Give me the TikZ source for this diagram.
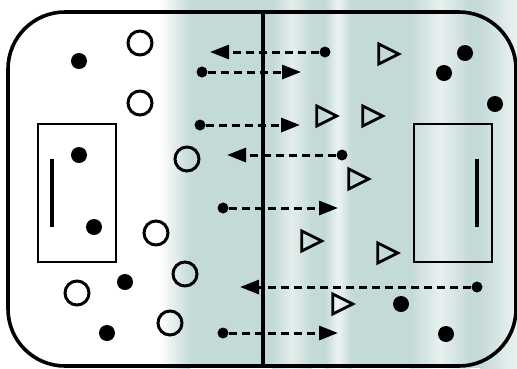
\documentclass[tikz,border=0pt]{standalone}
\definecolor{iceteal}{RGB}{196, 218, 216}
\definecolor{icelight}{RGB}{236, 243, 242}
\usepackage{tikz}
\usetikzlibrary{shapes.geometric, arrows.meta, positioning}

\begin{document}
\begin{tikzpicture}[x=1pt, y=-1pt,
        arr/.style={-{Triangle[length=19pt, width=14pt]}, line width=3pt,
                    dash pattern=on 8pt off 5pt},
        puck/.style={circle, fill=black, inner sep=0pt, minimum size=11pt},
        homeplayer/.style={circle, fill=black, inner sep=0pt, minimum size=16pt},
        awayplayer/.style={circle, draw, line width=3pt, inner sep=0pt,
                    minimum size=24pt},
        cone/.style={isosceles triangle, isosceles triangle stretches, draw,
                    line width=2.8pt, inner sep=0pt, minimum width=20pt,
                    minimum height=20pt},
        goal/.style={draw, line width=2.4pt, minimum width=78pt, minimum height=138pt}
      ]
        % ice background
        \useasboundingbox (0,0) rectangle (517,368);
        \fill[white] (0,0) rectangle (517,368);
        \shade[left color=white, right color=iceteal] (160,0) rectangle (190,368);
        \fill[iceteal] (190,0) rectangle (517,368);
        \shade[left color=iceteal, right color=icelight, opacity=0.8] (272,0) rectangle (292,368);
        \shade[left color=icelight, right color=iceteal, opacity=0.8] (292,0) rectangle (312,368);
        \shade[left color=iceteal, right color=white, opacity=0.7] (325,0) rectangle (338,368);
        \shade[left color=white, right color=iceteal, opacity=0.7] (338,0) rectangle (352,368);
        \shade[left color=iceteal, right color=white, opacity=0.6] (410,0) rectangle (440,368);
        \shade[left color=white, right color=iceteal, opacity=0.6] (440,0) rectangle (470,368);
        \shade[left color=iceteal, right color=icelight] (480,0) rectangle (517,368);

        % rink
        \draw[line width=3.6pt, rounded corners=57pt] (8,12) rectangle (516,366);
        \draw[line width=3.6pt] (263,12) -- (263,368);
        \node[goal] (leftgoal) at (77,193) {};
        \node[goal] (rightgoal) at (453,193) {};
        \draw[line width=3.2pt] (52,159) -- (52,227);
        \draw[line width=3.2pt] (477,159) -- (477,227);

        % filled players
        \node[homeplayer] (h1) at (79,61) {};
        \node[homeplayer] (h2) at (79,155) {};
        \node[homeplayer] (h3) at (94,227) {};
        \node[homeplayer] (h4) at (125,282) {};
        \node[homeplayer] (h5) at (107,333) {};
        \node[homeplayer] (h6) at (465,53) {};
        \node[homeplayer] (h7) at (444,73) {};
        \node[homeplayer] (h8) at (495,104) {};
        \node[homeplayer] (h9) at (401,304) {};
        \node[homeplayer] (h10) at (446,334) {};

        % open players
        \node[awayplayer] (o1) at (140,43) {};
        \node[awayplayer] (o2) at (140,103) {};
        \node[awayplayer] (o3) at (187,159) {};
        \node[awayplayer] (o4) at (156,233) {};
        \node[awayplayer] (o5) at (185,274) {};
        \node[awayplayer] (o6) at (77,293) {};
        \node[awayplayer] (o7) at (170,323) {};

        % cones
        \node[cone] (c1) at (385,54) {};
        \node[cone] (c2) at (323,116) {};
        \node[cone] (c3) at (369,116) {};
        \node[cone] (c4) at (355,179) {};
        \node[cone] (c5) at (308,241) {};
        \node[cone] (c6) at (384,253) {};
        \node[cone] (c7) at (339,304) {};

        % passes
        \node[puck] (p1) at (325,52) {};
        \node[puck] (p2) at (202,72) {};
        \node[puck] (p3) at (200,125) {};
        \node[puck] (p4) at (342,155) {};
        \node[puck] (p5) at (223,208) {};
        \node[puck] (p6) at (477,287) {};
        \node[puck] (p7) at (223,333) {};
        \coordinate (e1) at (210,52);
        \coordinate (e2) at (301,72);
        \coordinate (e3) at (300,125);
        \coordinate (e4) at (227,155);
        \coordinate (e5) at (338,208);
        \coordinate (e6) at (240,287);
        \coordinate (e7) at (338,333);

        \draw[arr] (p1) -- (e1);
        \draw[arr] (p2) -- (e2);
        \draw[arr] (p3) -- (e3);
        \draw[arr] (p4) -- (e4);
        \draw[arr] (p5) -- (e5);
        \draw[arr] (p6) -- (e6);
        \draw[arr] (p7) -- (e7);
      \end{tikzpicture}
\end{document}
